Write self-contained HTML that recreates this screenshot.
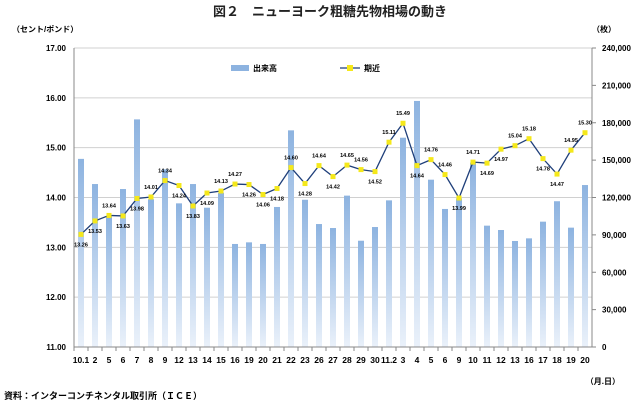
<!DOCTYPE html>
<html><head><meta charset="utf-8"><style>
body{margin:0;background:#fff;width:640px;height:403px;overflow:hidden;font-family:"Liberation Sans","Noto Sans CJK JP",sans-serif}
</style></head><body>
<svg id="c" width="640" height="403" xmlns="http://www.w3.org/2000/svg" font-family="Liberation Sans, Noto Sans CJK JP, sans-serif">
<defs><linearGradient id="g" x1="0" y1="0" x2="0" y2="1"><stop offset="0" stop-color="#8db3e0"/><stop offset="1" stop-color="#eaf1fa"/></linearGradient></defs>
<text x="330" y="16" text-anchor="middle" font-size="13" font-weight="bold" fill="#222">図２　ニューヨーク粗糖先物相場の動き</text>
<text x="12" y="32" font-size="8" font-weight="bold">（セント/ポンド）</text>
<text x="604" y="32" font-size="8" font-weight="bold" text-anchor="middle">（枚）</text>
<text x="620" y="384" font-size="8" font-weight="bold" text-anchor="end">（月.日）</text>
<text x="4" y="399" font-size="9" font-weight="bold">資料：インターコンチネンタル取引所（ＩＣＥ）</text>
<g>
<rect x="231" y="65" width="18" height="6" fill="#8db3e0"/>
<text x="253" y="71" font-size="8" font-weight="bold">出来高</text>
<line x1="340" y1="68" x2="360" y2="68" stroke="#1f3f7a" stroke-width="1.3"/>
<rect x="347" y="65" width="6" height="6" fill="#f5e81a"/>
<text x="364" y="71" font-size="8" font-weight="bold">期近</text>
</g>
<g id="grid"></g><g id="bars"></g><g id="line"></g><g id="axes"></g>
</svg>
<script>
const categories=["10.1","2","5","6","7","8","9","12","13","14","15","16","19","20","21","22","23","26","27","28","29","30","11.2","3","4","5","6","9","10","11","12","13","16","17","18","19","20"];
const prices=[13.26,13.53,13.64,13.63,13.98,14.01,14.34,14.24,13.83,14.09,14.13,14.27,14.26,14.06,14.18,14.60,14.28,14.64,14.42,14.65,14.56,14.52,15.11,15.49,14.64,14.76,14.46,13.99,14.71,14.69,14.97,15.04,15.18,14.78,14.47,14.95,15.30];
const volumes=[151000,130800,105000,126800,182700,118500,142600,115300,130800,111800,123800,82700,84000,82700,112400,173900,118200,98700,95500,121500,85300,96300,117700,168000,197500,134300,110800,119300,148000,97400,93900,85100,87200,100600,117000,95800,130000];
const labelAbove=[0,0,1,0,0,1,1,0,0,0,1,1,0,0,0,1,0,1,0,1,1,0,1,1,0,1,1,0,1,0,0,1,1,0,0,1,1];
const leftTicks=["11.00","12.00","13.00","14.00","15.00","16.00","17.00"];
const rightTicks=["0","30,000","60,000","90,000","120,000","150,000","180,000","210,000","240,000"];
const NS="http://www.w3.org/2000/svg";
const X0=74,X1=592,YT=48,YB=347;
const step=(X1-X0)/categories.length;
const xc=i=>X0+step*(i+0.5);
const yP=v=>YB-(v-11)/6*(YB-YT);
const yV=v=>YB-v/240000*(YB-YT);
function mk(t,a,p){const e=document.createElementNS(NS,t);for(const k in a)e.setAttribute(k,a[k]);p.appendChild(e);return e;}
const grid=document.getElementById('grid'),bars=document.getElementById('bars'),line=document.getElementById('line'),axes=document.getElementById('axes');
leftTicks.forEach((t,i)=>{const y=yP(+t);
const gl=mk('line',{x1:X0,x2:X1,y1:y,y2:y,stroke:'#d0d0d0','stroke-width':1},grid);

const tx=mk('text',{x:X0-8,y:y+3,'font-size':8,'font-weight':'bold','text-anchor':'end'},axes);tx.textContent=t;
});
rightTicks.forEach((t,i)=>{const y=yV(+t.replace(/,/g,''));
const tx=mk('text',{x:X1+10,y:y+3,'font-size':8,'font-weight':'bold'},axes);tx.textContent=t;

mk('line',{x1:X1,x2:X1+4,y1:y,y2:y,stroke:'#888'},axes);});
mk('line',{x1:X0,x2:X0,y1:YT,y2:YB,stroke:'#888'},axes);
mk('line',{x1:X1,x2:X1,y1:YT,y2:YB,stroke:'#888'},axes);
mk('line',{x1:X0,x2:X1,y1:YB,y2:YB,stroke:'#888'},axes);
categories.forEach((c,i)=>{
const b=mk('rect',{x:xc(i)-3,y:yV(volumes[i]),width:6,height:YB-yV(volumes[i]),fill:'url(#g)'},bars);

mk('line',{x1:X0+step*i,x2:X0+step*i,y1:YB,y2:YB+4,stroke:'#888'},axes);
const t=mk('text',{x:xc(i),y:YB+16,'font-size':8.5,'font-weight':'bold','text-anchor':'middle'},axes);t.textContent=c;
});
const pts=prices.map((v,i)=>xc(i)+','+yP(v)).join(' ');
const pl=mk('polyline',{points:pts,fill:'none',stroke:'#1f3f7a','stroke-width':1.3},line);

prices.forEach((v,i)=>{const x=xc(i),y=yP(v);
const m=mk('rect',{x:x-2.5,y:y-2.5,width:5,height:5,fill:'#f5e81a'},line);

const t=mk('text',{x:x,y:labelAbove[i]?y-8:y+12,'font-size':5.5,'font-weight':'bold','text-anchor':'middle'},line);t.textContent=v.toFixed(2);
});
</script>
</body></html>
